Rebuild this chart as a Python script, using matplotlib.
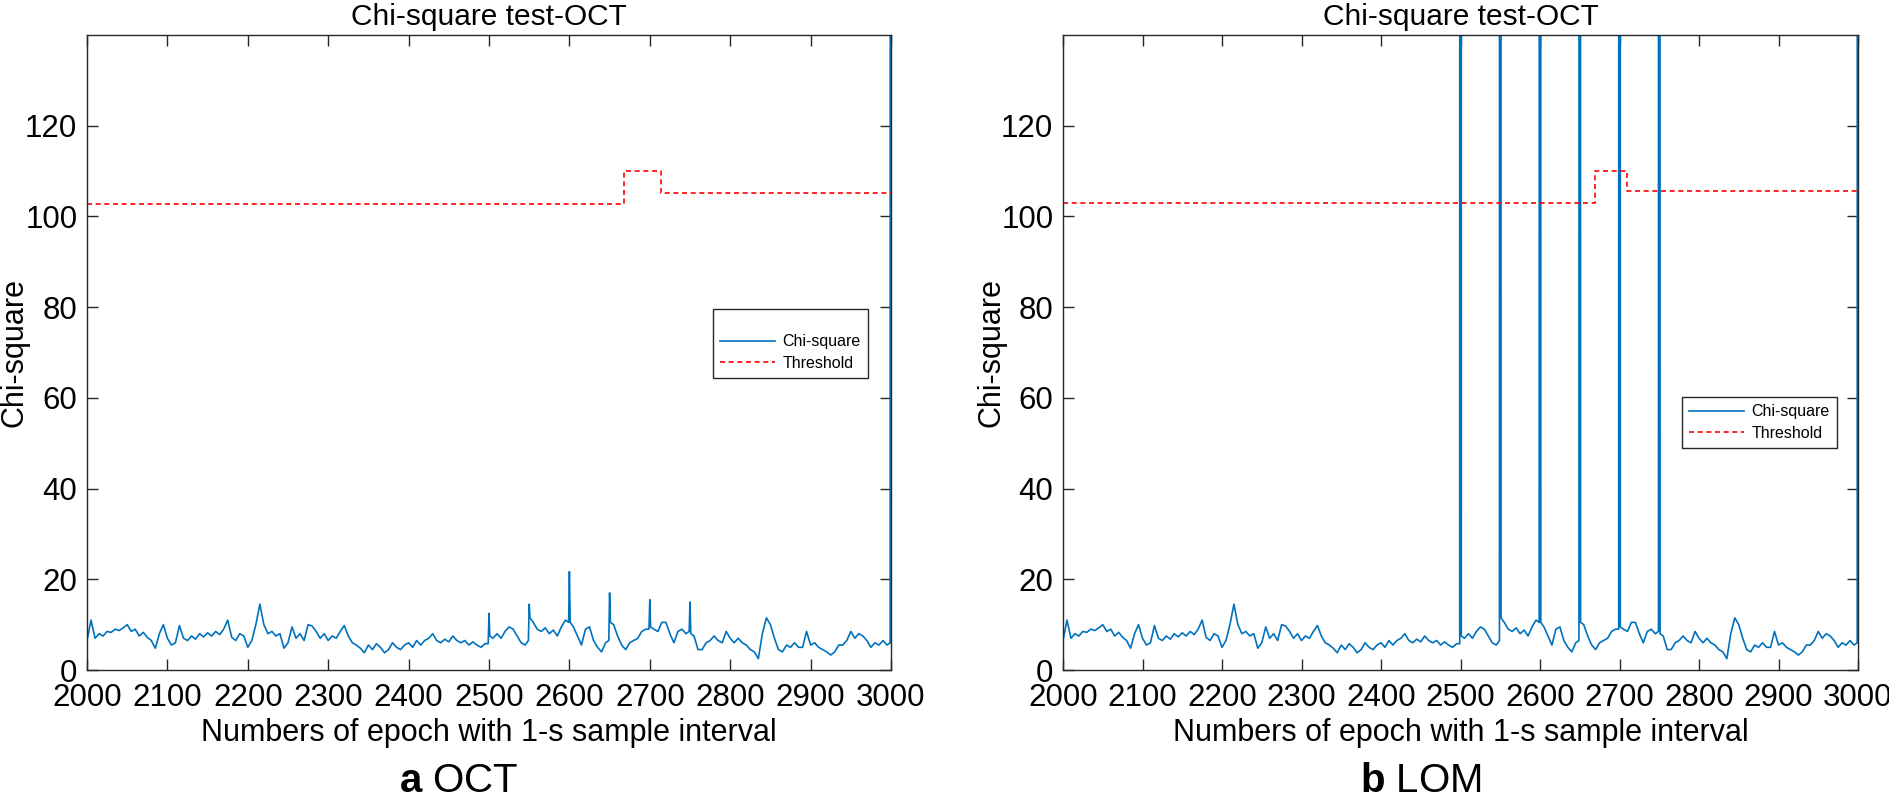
import matplotlib
matplotlib.use("Agg")
import matplotlib.pyplot as plt
import numpy as np

plt.rcParams['font.family'] = ['Liberation Sans', 'DejaVu Sans']
plt.rcParams['mathtext.fontset'] = 'custom'
plt.rcParams['mathtext.rm'] = 'Liberation Sans'
plt.rcParams['mathtext.bf'] = 'Liberation Sans:bold'

# ---------------- data ----------------
epoch_start, epoch_end, epoch_step = 2000, 3000, 5
chi_oct = [
    6.5, 11, 7, 8, 7.5, 8.5, 8.3, 9, 8.7, 9.3,
    10, 8.5, 9, 7.5, 8.3, 7.2, 6.5, 4.8, 8, 10,
    7, 5.5, 6, 9.8, 7, 6.5, 7.5, 6.8, 8, 7.3,
    8.2, 7.5, 8.5, 7.8, 9, 11, 7.2, 6.5, 8, 7.5,
    5, 6.5, 10, 14.5, 10, 8, 8.5, 7.5, 8, 4.8,
    6, 9.5, 7, 8, 6.5, 10, 9.7, 8.5, 7, 8,
    6.5, 7.5, 7, 8.5, 9.8, 7.5, 6, 5.5, 4.8, 3.8,
    5.5, 4.5, 5.8, 5, 3.8, 4.5, 6, 5, 4.5, 5.5,
    6, 5, 6.5, 5.5, 6.5, 7, 8, 6.5, 6, 6.8,
    6.2, 7.5, 6.5, 6, 6.5, 5.5, 6.2, 5.5, 5, 5.8,
    12.5, 7, 8, 7, 8.5, 9.5, 9, 7.5, 6, 5.5,
    14.5, 10.5, 9, 8.5, 9.3, 8, 8.8, 7.5, 9.5, 11,
    21.7, 9.5, 7.5, 5.5, 9, 9.5, 6.5, 5, 4, 6,
    17, 10, 7.5, 5.5, 4.5, 6, 6.5, 7, 8.5, 9,
    15.5, 9, 8.5, 10.5, 10.5, 8, 6, 8.5, 9, 8,
    15, 7.5, 4.5, 4.5, 6, 6.5, 7.5, 6.5, 6, 8.5,
    7, 6, 7, 6, 5.5, 4.5, 4, 2.5, 8, 11.5,
    10, 7, 4.5, 4, 5.5, 5, 6, 5, 5, 8.5,
    5.5, 6, 5, 4.5, 4, 3.3, 4, 5.5, 5.5, 6.5,
    8.5, 7, 8, 7.5, 6.5, 5, 6, 5.5, 6.5, 5.5,
    3000,
]
# single-epoch samples read right beside the sharp peaks
side_epochs = [2499, 2501, 2549, 2551, 2599, 2601, 2649, 2651,
               2699, 2701, 2749, 2751, 2999]
side_values = [5.8, 7.5, 6.5, 11.5, 10.5, 10.5, 6.5, 10.5,
               9, 9.5, 8.5, 8, 6]

lom_spike_epochs = [2500, 2550, 2600, 2650, 2700, 2750]
lom_spike_value = 3000

thr_oct_epochs = [2000, 2668, 2714, 3000]
thr_oct_values = [102.7, 110, 105.2, 105.2]
thr_lom_epochs = [2000, 2669, 2710, 3000]
thr_lom_values = [103.0, 110, 105.5, 105.5]

xticks = list(range(2000, 3001, 100))
yticks = list(range(0, 121, 20))
title = "Chi-square test-OCT"
xlabel = "Numbers of epoch with 1-s sample interval"
ylabel = "Chi-square"
panel_labels = [r"$\mathbf{a}$ OCT", r"$\mathbf{b}$ LOM"]

# ---------------- build ----------------
grid = np.arange(epoch_start, epoch_end + 1, epoch_step)
assert len(grid) == len(chi_oct)
all_e = np.concatenate([grid, side_epochs]).astype(float)
all_v = np.concatenate([chi_oct, side_values]).astype(float)
order = np.argsort(all_e, kind='stable')
epochs = all_e[order]
chi_oct_arr = all_v[order]
chi_lom_arr = chi_oct_arr.copy()
for e in lom_spike_epochs:
    chi_lom_arr[epochs == e] = lom_spike_value

W, H = 1889, 799
fig = plt.figure(figsize=(W / 100, H / 100), dpi=100)

blue = '#0072BD'
axc = '#262626'


def make_ax(left_px, right_px, chi, thr_e, thr_v, legend_br, label_x, plabel, extra_top):
    ax = fig.add_axes([left_px / W, 1 - 670 / H, (right_px - left_px) / W, 635 / H])
    l1, = ax.plot(epochs, chi, color=blue, lw=1.2, label='Chi-square')
    l2, = ax.plot(thr_e, thr_v, color='#FF0000', ls=(0, (3, 2.2)), lw=1.2,
                  drawstyle='steps-post', label='Threshold')
    ax.set_xlim(2000, 3000)
    ax.set_ylim(0, 140)
    ax.set_xticks(xticks)
    ax.set_yticks(yticks)
    ax.tick_params(direction='in', length=8, width=1, color=axc, labelsize=22.5,
                   top=True, right=True, labelcolor='black')
    ax.tick_params(axis='x', pad=9)
    ax.tick_params(axis='y', pad=7)
    for s in ax.spines.values():
        s.set_color(axc)
        s.set_linewidth(1.0)
    ax.set_title(title, fontsize=21.5, pad=7)
    ax.set_xlabel(xlabel, fontsize=22)
    ax.xaxis.set_label_coords(0.5, -0.075)
    ax.set_ylabel(ylabel, fontsize=22)
    ax.yaxis.set_label_coords(-0.071, 0.5)
    leg = ax.legend(handles=[l1, l2], loc='lower right',
                    bbox_to_anchor=(legend_br[0] / W, 1 - legend_br[1] / H),
                    bbox_transform=fig.transFigure, fontsize=11.5,
                    frameon=True, fancybox=False, framealpha=1,
                    handlelength=3.4, handletextpad=0.5, borderpad=0.45,
                    labelspacing=0.4, borderaxespad=0,
                    title=(" " if extra_top else None), title_fontsize=9)
    leg.get_frame().set_edgecolor(axc)
    leg.get_frame().set_linewidth(1.0)
    fig.text(label_x / W, 1 - 781 / H, plabel, ha='center', va='center', fontsize=29)
    return ax


make_ax(87, 891, chi_oct_arr, thr_oct_epochs, thr_oct_values, (868, 378), 459,
        panel_labels[0], True)
make_ax(1063, 1858, chi_lom_arr, thr_lom_epochs, thr_lom_values, (1837, 448), 1421,
        panel_labels[1], False)

fig.savefig('out.png', dpi=100)
